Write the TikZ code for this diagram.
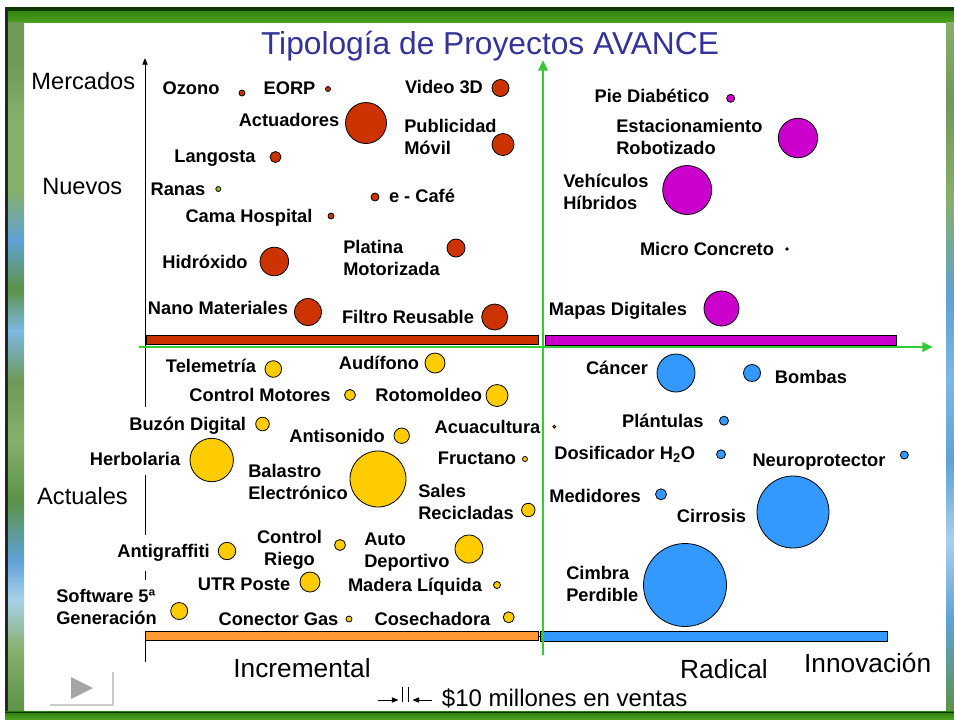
\documentclass[tikz,border=0pt]{standalone}
\usepackage{fontspec}
\setmainfont{Liberation Sans}
\usetikzlibrary{arrows.meta}
\tikzset{>={Triangle[length=5pt,width=4pt]}}

\definecolor{rojo}{HTML}{CC3300}
\definecolor{morado}{HTML}{CC00CC}
\definecolor{amarillo}{HTML}{FFCC00}
\definecolor{azul}{HTML}{3399FF}
\definecolor{naranja}{HTML}{FF9933}
\definecolor{lima}{HTML}{99CC00}
\definecolor{verdeeje}{HTML}{33CC33}
\definecolor{titulo}{HTML}{333399}
\definecolor{gris}{HTML}{A6A6A6}
\definecolor{verdeosc}{HTML}{0E3A02}
\definecolor{verdeA}{HTML}{2A7A0C}
\definecolor{verdeB}{HTML}{4C9E1E}
\definecolor{musgo}{HTML}{6E9A58}
\definecolor{pasto}{HTML}{86B06A}
\definecolor{hoja}{HTML}{5C9248}
\definecolor{cielo}{HTML}{7CB8E4}
\definecolor{agua}{HTML}{5FA2D6}
\definecolor{bruma}{HTML}{A8D0EA}

\pgfdeclareverticalshading{tiraizq}{100bp}{color(0bp)=(hoja); color(25bp)=(hoja);
  color(29.4bp)=(pasto); color(33.1bp)=(bruma); color(36bp)=(agua);
  color(40.3bp)=(hoja); color(44.7bp)=(pasto); color(49bp)=(musgo);
  color(52.6bp)=(cielo); color(55.6bp)=(hoja); color(59.2bp)=(agua);
  color(62.8bp)=(pasto); color(67.9bp)=(pasto); color(72.2bp)=(musgo);
  color(75bp)=(musgo); color(100bp)=(musgo)}
\pgfdeclareverticalshading{tirader}{100bp}{color(0bp)=(hoja); color(25bp)=(hoja);
  color(31.6bp)=(agua); color(37.4bp)=(bruma); color(43.2bp)=(agua);
  color(49bp)=(cielo); color(54.8bp)=(agua); color(62.1bp)=(pasto);
  color(69.3bp)=(musgo); color(75bp)=(pasto); color(100bp)=(pasto)}

\tikzset{
  bola/.style={circle, draw=black, line width=0.6pt, inner sep=0pt, minimum size=#1*1.5pt},
  etiq/.style={font=\fontsize{13.7}{16.5}\selectfont\bfseries, inner sep=0pt, anchor=base},
  etiqdos/.style={etiq, align=left, anchor=west},
  tapa/.style={fill=white, inner xsep=3pt, inner ysep=7pt},
  eje/.style={font=\fontsize{17.7}{21}\selectfont, inner sep=0pt, anchor=base},
  ejeh/.style={font=\fontsize{19.7}{23}\selectfont, inner sep=0pt, anchor=base},
  barra/.style={draw=black, line width=0.6pt},
}

\begin{document}
\begin{tikzpicture}[x=0.75pt, y=-0.75pt]
  \useasboundingbox (0,0) rectangle (954,719);
  \fill[white] (0,0) rectangle (954,719);

  \shade[top color=verdeA, bottom color=verdeB] (5,7) rectangle (954,22);
  \fill[verdeosc] (5,7) rectangle (954,10.5);
  \shade[shading=tiraizq] (7.5,22) rectangle (24,711.5);
  \shade[shading=tirader] (946,22) rectangle (954,711.5);
  \fill[black!85] (5,7) rectangle (7.5,719);
  \shade[top color=verdeA, bottom color=verdeB] (5,711.5) rectangle (954,719);
  \fill[verdeosc] (5,711.5) rectangle (954,712.5);

  \fill[gris] (71,677) -- (71,699) -- (93,688) -- cycle;
  \draw[gris!60, line width=1pt] (50,705) -- (113,705) -- (113,672);

  \node[font=\fontsize{23.8}{28}\selectfont, text=titulo, inner sep=0pt, anchor=base] (titulo) at (490,54) {Tipología de Proyectos AVANCE};

  \coordinate (ejy0) at (145,662);
  \coordinate (ejy1) at (145,58);
  \coordinate (ejx0) at (145,636);
  \coordinate (ejx1) at (873,636);
  \draw[line width=0.75pt, ->] (ejy0) -- (ejy1);
  \draw[line width=0.75pt, ->] (ejx0) -- (ejx1);

  \node[eje] (mercados) at (83.3,89.5) {Mercados};
  \node[eje] (nuevos) at (82.3,194) {Nuevos};
  \node[eje] (actuales) at (82.5,504) {Actuales};
  \node[ejeh] (increm) at (302,677.5) {Incremental};
  \node[ejeh] (radical) at (724,678) {Radical};
  \node[ejeh] (innov) at (867.7,672.5) {Innovación};

  \node[etiq] (tOzono) at (191,94) {Ozono};
  \node[etiq] (tEorp) at (289.5,94.5) {EORP};
  \node[etiq] (tVideo) at (444,93.5) {Video 3D};
  \node[etiq] (tActuad) at (289,126.3) {Actuadores};
  \node[etiqdos] (tPublic) at (404,137.4) {Publicidad\\Móvil};
  \node[etiq] (tLangosta) at (215,162.7) {Langosta};
  \node[etiq] (tRanas) at (178,195) {Ranas};
  \node[etiq] (tCafe) at (422,202.5) {e - Café};
  \node[etiq] (tCama) at (249,222.7) {Cama Hospital};
  \node[etiq] (tHidrox) at (205,268.3) {Hidróxido};
  \node[etiqdos] (tPlatina) at (343,257.9) {Platina\\Motorizada};
  \node[etiq] (tNano) at (218,314) {Nano Materiales};
  \node[etiq] (tFiltro) at (408,323.5) {Filtro Reusable};

  \node[etiq] (tPie) at (652,102) {Pie Diabético};
  \node[etiqdos] (tEstac) at (616,137.4) {Estacionamiento\\Robotizado};
  \node[etiqdos] (tVehic) at (563,191.9) {Vehículos\\Híbridos};
  \node[etiq] (tMicro) at (707,255.5) {Micro Concreto};
  \node[etiq] (tMapas) at (618,315.5) {Mapas Digitales};

  \node[etiq] (tTelem) at (211,372.7) {Telemetría};
  \node[etiq] (tAudif) at (379,369) {Audífono};
  \node[etiq] (tCtrlMot) at (260,401.5) {Control Motores};
  \node[etiq] (tRotom) at (428.7,401.7) {Rotomoldeo};
  \node[etiq, tapa] (tBuzon) at (187.7,430) {Buzón Digital};
  \node[etiq] (tAntis) at (337,442.3) {Antisonido};
  \node[etiq] (tAcua) at (487.5,433.3) {Acuacultura};
  \node[etiq, tapa] (tHerbo) at (135,465.7) {Herbolaria};
  \node[etiqdos] (tBalas) at (248,481.9) {Balastro\\Electrónico};
  \node[etiq] (tFruct) at (477,464.3) {Fructano};
  \node[etiqdos] (tSales) at (418,501.9) {Sales\\Recicladas};
  \node[etiq, tapa] (tAntig) at (163.5,557.3) {Antigraffiti};
  \node[etiqdos, align=center, anchor=center] (tRiego) at (289.5,549.8) {Control\\Riego};
  \node[etiqdos] (tAuto) at (364,551.8) {Auto\\Deportivo};
  \node[etiq] (tUtr) at (244,590.5) {UTR Poste};
  \node[etiq] (tMadera) at (415,591.5) {Madera Líquida};
  \node[etiqdos, tapa] (tSoft) at (52,607.4) {Software 5ª\\Generación};
  \node[etiq] (tConector) at (278.5,625.5) {Conector Gas};
  \node[etiq] (tCosech) at (432.5,625) {Cosechadora};

  \node[etiq] (tCancer) at (617,374.5) {Cáncer};
  \node[etiq] (tBombas) at (811,383.5) {Bombas};
  \node[etiq] (tPlant) at (662.8,427.3) {Plántulas};
  \node[etiq] (tDosif) at (624.7,459.3) {Dosificador H\textsubscript{2}O};
  \node[etiq] (tNeuro) at (819,466.7) {Neuroprotector};
  \node[etiq] (tMedid) at (595,502.7) {Medidores};
  \node[etiq] (tCirro) at (711.5,522.5) {Cirrosis};
  \node[etiqdos] (tCimbra) at (566,583.9) {Cimbra\\Perdible};

  \draw[barra, fill=rojo] (146,335.5) rectangle (538.5,344.5);
  \draw[barra, fill=morado] (545,335.5) rectangle (896,345.5);
  \draw[barra, fill=naranja] (145,631) rectangle (538.5,640.5);
  \draw[barra, fill=azul] (540,631) rectangle (887,641);

  \coordinate (gx0) at (139,347);
  \coordinate (gx1) at (933,347);
  \coordinate (gy0) at (543,655);
  \coordinate (gy1) at (543,60);
  \draw[verdeeje, line width=1.9pt, -{Triangle[length=8pt,width=7pt]}] (gx0) -- (gx1);
  \draw[verdeeje, line width=1.9pt, -{Triangle[length=8pt,width=7pt]}] (gy0) -- (gy1);

  \foreach \n/\x/\y/\r in {ozono/242/93/3, eorp/328/89/2.5, video/500.5/88/8.5,
      actuad/366/123/20.5, public/503/144.5/11, langosta/275.5/157/5.5, cafe/375/197/4,
      cama/331/216/3, hidrox/274.3/261.5/14.3, platina/456/248/9, nano/308/312/13.5,
      filtro/494.7/317/13}
    \node[bola=\r, fill=rojo] (\n) at (\x,\y) {};
  \node[bola=2.5, fill=lima] (ranas) at (218.3,189) {};
  \foreach \n/\x/\y/\r in {pie/730.7/98.3/4, estac/798/138/19.7, vehic/687.2/190/24.5,
      micro/787/249/1.2, mapas/721.5/308.5/17.5}
    \node[bola=\r, fill=morado] (\n) at (\x,\y) {};
  \foreach \n/\x/\y/\r in {telem/273.3/369/8.3, audif/435/363/10, ctrlmot/350/395/5.5,
      rotom/497/395.5/11, buzon/262.5/424/6.8, antis/401.7/435.7/7.7, acua/554.3/426.7/1.5,
      herbo/211.7/460/21.7, balas/378/479/28, fruct/525/459/2.5, sales/528.3/510/6.7,
      antig/227/551/8.7, riego/340/545/5.5, auto/469/549/14, utr/310/582/10,
      madera/497/585/3.5, soft/179.2/611/8.5, conector/349/619/3, cosech/508.7/617.3/5.5}
    \node[bola=\r, fill=amarillo] (\n) at (\x,\y) {};
  \foreach \n/\x/\y/\r in {cancer/676/373/19, bombas/752/373/8.5, plant/724/420.7/4.5,
      dosif/721/454.3/4.5, neuro/904.3/455/4, medid/661/494.3/5.5, cirro/793/512/36,
      cimbra/685/585/41.5}
    \node[bola=\r, fill=azul] (\n) at (\x,\y) {};

  \coordinate (fi0) at (378,700);
  \coordinate (fi1) at (398.5,700);
  \coordinate (fd0) at (432,700);
  \coordinate (fd1) at (412.5,700);
  \coordinate (ra0) at (402.7,687);
  \coordinate (ra1) at (402.7,702);
  \coordinate (rb0) at (408,687);
  \coordinate (rb1) at (408,702);
  \draw[line width=0.6pt, ->] (fi0) -- (fi1);
  \draw[line width=0.6pt, ->] (fd0) -- (fd1);
  \draw[line width=0.6pt] (ra0) -- (ra1);
  \draw[line width=0.6pt] (rb0) -- (rb1);
  \node[font=\fontsize{18}{21}\selectfont, inner sep=0pt, anchor=base west] (leyenda) at (441.7,706) {\$10 millones en ventas};
\end{tikzpicture}
\end{document}
